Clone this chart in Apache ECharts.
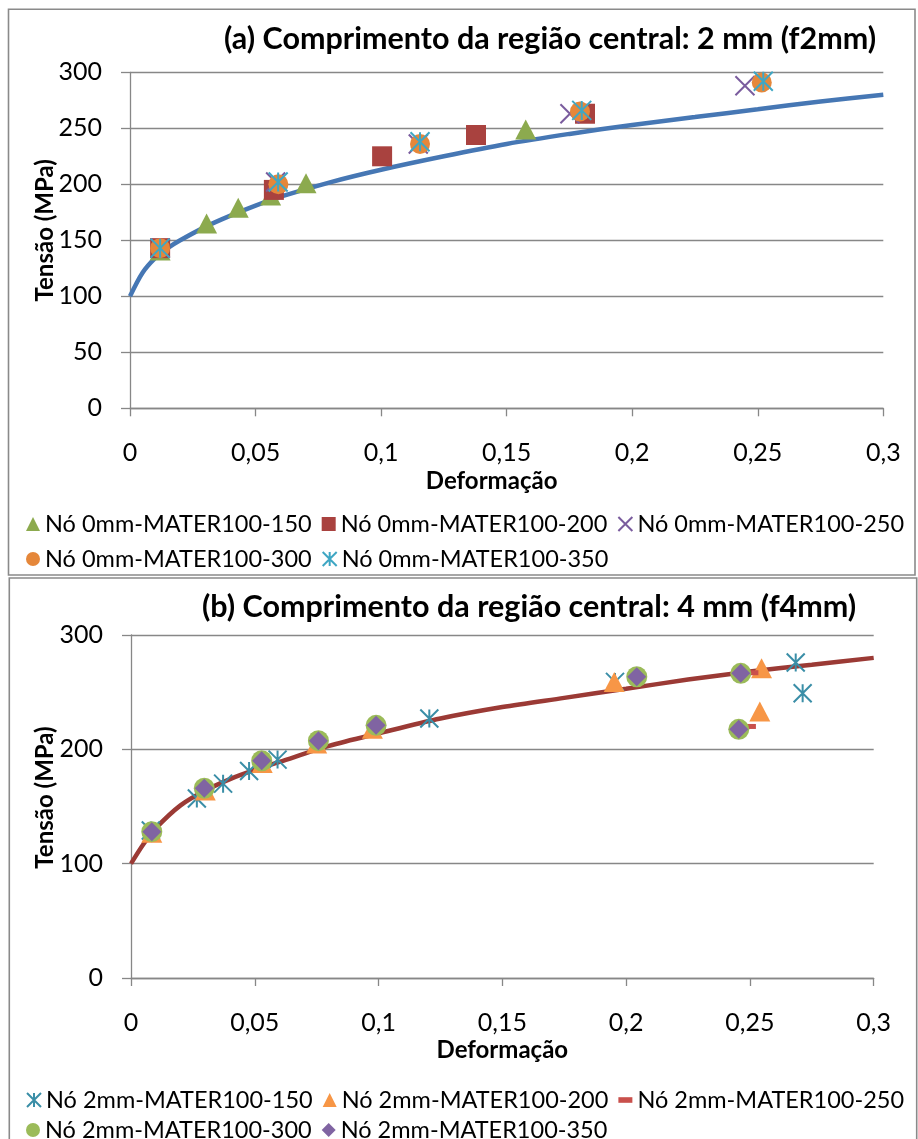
<!DOCTYPE html>
<html>
<head>
<meta charset="utf-8">
<script src="https://cdn.jsdelivr.net/npm/echarts@6/dist/echarts.min.js"></script>
<style>
  html, body { margin: 0; padding: 0; background: #ffffff; }
  #chart { width: 918px; height: 1139px; }
</style>
</head>
<body>
<div id="chart"></div>
<script>
// ---------- (a) central region length 2 mm ----------
const titleA = '(a) Comprimento da região central: 2 mm (f2mm)';
const curveA = [[0, 100], [0.005, 121], [0.01, 134], [0.015, 143], [0.02, 150], [0.03, 162], [0.04, 172],
  [0.05, 181], [0.06, 189], [0.08, 202], [0.1, 213], [0.125, 225], [0.15, 236], [0.175, 245],
  [0.2, 253], [0.225, 260], [0.25, 267], [0.275, 274], [0.3, 280]];
const a150 = [[0.012, 141], [0.0305, 165], [0.0431, 179], [0.056, 190], [0.0701, 201], [0.1576, 249]];
const a200 = [[0.012, 143], [0.0573, 195], [0.1004, 225], [0.1378, 244], [0.1812, 263]];
const a250 = [[0.012, 143], [0.058, 202], [0.1148, 236], [0.1752, 263], [0.2449, 288]];
const a300 = [[0.012, 143], [0.0591, 200], [0.1155, 236], [0.1792, 265], [0.2516, 291]];
const a350 = [[0.012, 143], [0.059, 202], [0.1155, 238], [0.1799, 266], [0.2522, 292]];
const namesA = ['Nó 0mm-MATER100-150', 'Nó 0mm-MATER100-200', 'Nó 0mm-MATER100-250',
  'Nó 0mm-MATER100-300', 'Nó 0mm-MATER100-350'];
const yTicksA = ['0', '50', '100', '150', '200', '250', '300'];

// ---------- (b) central region length 4 mm ----------
const titleB = '(b) Comprimento da região central: 4 mm (f4mm)';
const curveB = [[0, 100], [0.005, 117], [0.01, 131], [0.02, 151], [0.03, 164], [0.04, 174], [0.05, 182],
  [0.06, 189], [0.08, 203], [0.1, 214], [0.125, 227], [0.15, 237], [0.175, 245], [0.2, 253],
  [0.225, 261], [0.25, 268], [0.275, 274], [0.3, 280]];
const b150 = [[0.008, 129], [0.0266, 157], [0.0372, 170], [0.0477, 181], [0.0592, 191], [0.1205, 227],
  [0.1955, 259], [0.2685, 276], [0.2713, 249]];
const b200 = [[0.0084, 127], [0.03, 164], [0.053, 188], [0.075, 205], [0.0975, 218], [0.1952, 259],
  [0.2547, 271], [0.254, 233]];
const b250 = [[0.0085, 128], [0.0296, 165], [0.0528, 189], [0.0757, 206], [0.099, 220], [0.2043, 263],
  [0.251, 267], [0.25, 220]];
const b300 = [[0.0084, 128], [0.0296, 166], [0.0528, 190], [0.0757, 207.6], [0.099, 221], [0.2043, 263.5],
  [0.2463, 266.5], [0.2455, 217.5]];
const b350 = [[0.0084, 128], [0.0296, 166], [0.0528, 190], [0.0757, 207.6], [0.099, 221], [0.2043, 263.5],
  [0.2463, 266.5], [0.2455, 217.5]];
const namesB = ['Nó 2mm-MATER100-150', 'Nó 2mm-MATER100-200', 'Nó 2mm-MATER100-250',
  'Nó 2mm-MATER100-300', 'Nó 2mm-MATER100-350'];
const yTicksB = ['0', '100', '200', '300'];

// shared axis text
const xTicks = ['0', '0,05', '0,1', '0,15', '0,2', '0,25', '0,3'];
const xName = 'Deformação';
const yName = 'Tensão (MPa)';

const FONT = 'Lato, "Open Sans", sans-serif';
const GRID_GRAY = '#878787';

const SYM_X = 'path://M0,0L10,10M10,0L0,10';
const SYM_STAR = 'path://M5,0L5,10M0,0L10,10M10,0L0,10';
const SYM_DASH = 'path://M0,0h10v4h-10z';

function xAxisCfg(gridIndex, nameGap, namePad) {
  return {
    type: 'value', gridIndex, min: 0, max: 0.3, interval: 0.05,
    name: xName, nameLocation: 'middle', nameGap, nameMoveOverlap: false,
    nameTextStyle: { fontFamily: FONT, fontSize: 24, fontWeight: 'bold', color: '#000', padding: namePad },
    axisLine: { show: true, onZero: false, lineStyle: { color: GRID_GRAY, width: 1.3 } },
    axisTick: { show: true, inside: false, length: 8, lineStyle: { color: GRID_GRAY, width: 1.3 } },
    axisLabel: { margin: 32, fontFamily: FONT, fontSize: 25, color: '#000',
      formatter: (v, i) => xTicks[i] },
    splitLine: { show: false }
  };
}

function yAxisCfg(gridIndex, interval, labels, nameGap, namePad) {
  return {
    type: 'value', gridIndex, min: 0, max: 300, interval,
    name: yName, nameLocation: 'middle', nameGap, nameRotate: 90, nameMoveOverlap: false,
    nameTextStyle: { fontFamily: FONT, fontSize: 24, fontWeight: 'bold', color: '#000', padding: namePad },
    axisLine: { show: true, lineStyle: { color: GRID_GRAY, width: 1.3 } },
    axisTick: { show: true, inside: false, length: 9, lineStyle: { color: GRID_GRAY, width: 1.3 } },
    axisLabel: { margin: 28, fontFamily: FONT, fontSize: 25, color: '#000',
      formatter: (v, i) => labels[i] },
    splitLine: { show: true, lineStyle: { color: GRID_GRAY, width: 1.3 } }
  };
}

function scatter(name, data, idx, symbol, size, color, stroke) {
  return {
    name, type: 'scatter', xAxisIndex: idx, yAxisIndex: idx, data,
    symbol, symbolSize: size,
    itemStyle: stroke
      ? { color: color, borderColor: color, borderWidth: 2, opacity: 1 }
      : { color: color, opacity: 1 },
    z: 3
  };
}

function curve(data, idx, color) {
  return {
    type: 'line', xAxisIndex: idx, yAxisIndex: idx, data,
    showSymbol: false, symbol: 'none', smooth: 0.3,
    lineStyle: { color, width: 4.5 }, z: 2, silent: true
  };
}

function legendRow(names, left, top, widths, icons) {
  return {
    left, top, orient: 'horizontal', itemGap: 10, itemWidth: 14, itemHeight: 14,
    selectedMode: false,
    textStyle: { fontFamily: FONT, fontSize: 23.5, color: '#000', width: 278, padding: [0, 0, 0, 0] },
    data: names.map((n, i) => {
      const item = { name: n };
      if (widths && widths[i]) item.textStyle = { width: widths[i] };
      if (icons && icons[i]) item.icon = icons[i];
      return item;
    })
  };
}

const option = {
  backgroundColor: '#ffffff',
  animation: false,
  title: [
    { text: titleA, left: 219, top: 19,
      textStyle: { fontFamily: FONT, fontSize: 30.5, fontWeight: 'bold', color: '#000' } },
    { text: titleB, left: 197, top: 587,
      textStyle: { fontFamily: FONT, fontSize: 30.5, fontWeight: 'bold', color: '#000' } }
  ],
  graphic: [
    { type: 'rect', shape: { x: 8.5, y: 9.3, width: 906.5, height: 565.7 },
      style: { fill: 'none', stroke: '#8a8a8a', lineWidth: 1.6 }, z: -1, silent: true },
    { type: 'rect', shape: { x: 9.3, y: 578, width: 907.4, height: 580 },
      style: { fill: 'none', stroke: '#8a8a8a', lineWidth: 1.6 }, z: -1, silent: true }
  ],
  grid: [
    { left: 130, top: 72.3, width: 753.3, height: 336 },
    { left: 131, top: 635, width: 742.7, height: 343 }
  ],
  xAxis: [xAxisCfg(0, 61, [0, 30, 0, 0]), xAxisCfg(1, 60, [0, 0, 0, 0])],
  yAxis: [yAxisCfg(0, 50, yTicksA, 73, [0, 0, 0, 20]), yAxisCfg(1, 100, yTicksB, 74, [0, 0, 0, 18])],
  legend: [
    legendRow(namesA.slice(0, 3), 21, 507),
    legendRow(namesA.slice(3), 21, 542),
    legendRow(namesB.slice(0, 3), 21, 1083, [278, 286, 278], [null, null, SYM_DASH]),
    legendRow(namesB.slice(3), 21, 1113)
  ],
  series: [
    curve(curveA, 0, '#4677B4'),
    scatter(namesA[0], a150, 0, 'triangle', [21, 20], '#8CAA4E', false),
    scatter(namesA[1], a200, 0, 'rect', 20, '#A9423F', false),
    scatter(namesA[2], a250, 0, SYM_X, 19, '#7A5C9E', true),
    scatter(namesA[3], a300, 0, 'circle', 20, '#E5873A', false),
    scatter(namesA[4], a350, 0, SYM_STAR, 19, '#3FA7C4', true),

    curve(curveB, 1, '#9B3A35'),
    scatter(namesB[0], b150, 1, SYM_STAR, 18, '#3A8EA7', true),
    scatter(namesB[1], b200, 1, 'triangle', [21, 20], '#F79646', false),
    scatter(namesB[2], b250, 1, 'rect', [12, 5], '#C9504C', false),
    scatter(namesB[3], b300, 1, 'circle', 21, '#9BBB59', false),
    scatter(namesB[4], b350, 1, 'diamond', [19, 19], '#8064A2', false)
  ]
};

const chart = echarts.init(document.getElementById('chart'), null, { renderer: 'canvas' });
chart.setOption(option);
</script>
</body>
</html>
